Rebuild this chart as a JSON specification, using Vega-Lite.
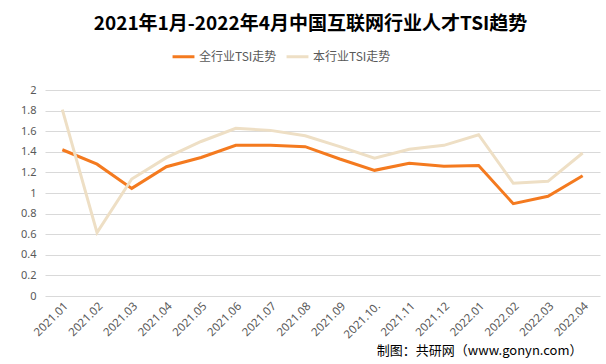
{
  "$schema": "https://vega.github.io/schema/vega-lite/v6.json",
  "width": 555,
  "height": 206,
  "autosize": {"type": "none"},
  "padding": {"left": 45, "top": 90, "right": 6, "bottom": 68},
  "background": "white",
  "title": {
    "text": "2021年1月-2022年4月中国互联网行业人才TSI趋势",
    "font": "Noto Sans CJK SC",
    "fontSize": 19,
    "fontWeight": "bold",
    "color": "#000000",
    "anchor": "middle",
    "dx": -12,
    "offset": 10
  },
  "config": {
    "view": {"stroke": null},
    "font": "Noto Sans CJK SC"
  },
  "data": {
    "values": [
      {"month": "2021.01", "series": "全行业TSI走势", "value": 1.42},
      {"month": "2021.02", "series": "全行业TSI走势", "value": 1.28},
      {"month": "2021.03", "series": "全行业TSI走势", "value": 1.045},
      {"month": "2021.04", "series": "全行业TSI走势", "value": 1.255},
      {"month": "2021.05", "series": "全行业TSI走势", "value": 1.345},
      {"month": "2021.06", "series": "全行业TSI走势", "value": 1.463},
      {"month": "2021.07", "series": "全行业TSI走势", "value": 1.463},
      {"month": "2021.08", "series": "全行业TSI走势", "value": 1.45},
      {"month": "2021.09", "series": "全行业TSI走势", "value": 1.33},
      {"month": "2021.10.", "series": "全行业TSI走势", "value": 1.22},
      {"month": "2021.11", "series": "全行业TSI走势", "value": 1.288},
      {"month": "2021.12", "series": "全行业TSI走势", "value": 1.26},
      {"month": "2022.01", "series": "全行业TSI走势", "value": 1.266},
      {"month": "2022.02", "series": "全行业TSI走势", "value": 0.896},
      {"month": "2022.03", "series": "全行业TSI走势", "value": 0.968},
      {"month": "2022.04", "series": "全行业TSI走势", "value": 1.168},
      {"month": "2021.01", "series": "本行业TSI走势", "value": 1.81},
      {"month": "2021.02", "series": "本行业TSI走势", "value": 0.615},
      {"month": "2021.03", "series": "本行业TSI走势", "value": 1.136},
      {"month": "2021.04", "series": "本行业TSI走势", "value": 1.343},
      {"month": "2021.05", "series": "本行业TSI走势", "value": 1.5},
      {"month": "2021.06", "series": "本行业TSI走势", "value": 1.628},
      {"month": "2021.07", "series": "本行业TSI走势", "value": 1.608},
      {"month": "2021.08", "series": "本行业TSI走势", "value": 1.555},
      {"month": "2021.09", "series": "本行业TSI走势", "value": 1.45},
      {"month": "2021.10.", "series": "本行业TSI走势", "value": 1.337},
      {"month": "2021.11", "series": "本行业TSI走势", "value": 1.424},
      {"month": "2021.12", "series": "本行业TSI走势", "value": 1.463},
      {"month": "2022.01", "series": "本行业TSI走势", "value": 1.566},
      {"month": "2022.02", "series": "本行业TSI走势", "value": 1.094},
      {"month": "2022.03", "series": "本行业TSI走势", "value": 1.113},
      {"month": "2022.04", "series": "本行业TSI走势", "value": 1.388}
    ]
  },
  "mark": {"type": "line", "strokeWidth": 3, "strokeJoin": "miter"},
  "encoding": {
    "x": {
      "field": "month",
      "type": "ordinal",
      "sort": null,
      "scale": {"type": "band", "paddingInner": 0, "paddingOuter": 0},
      "axis": {
        "title": "制图：共研网（www.gonyn.com）",
        "titleFontSize": 13,
        "titleFontWeight": "normal",
        "titleColor": "#000000",
        "titleAlign": "right",
        "titleBaseline": "top",
        "titleX": 537,
        "titleY": 48,
        "labelAngle": -45,
        "labelFontSize": 11.5,
        "labelColor": "#595959",
        "labelFont": "Noto Sans",
        "labelPadding": 4,
        "ticks": false,
        "domain": false,
        "grid": false
      }
    },
    "y": {
      "field": "value",
      "type": "quantitative",
      "scale": {"domain": [0, 2], "nice": false, "zero": true},
      "axis": {
        "title": null,
        "values": [0, 0.2, 0.4, 0.6, 0.8, 1, 1.2, 1.4, 1.6, 1.8, 2],
        "format": "~g",
        "labelFontSize": 11,
        "labelColor": "#595959",
        "labelFont": "Noto Sans",
        "labelPadding": 9,
        "ticks": false,
        "domain": false,
        "gridColor": "#d9d9d9",
        "gridWidth": 1
      }
    },
    "color": {
      "field": "series",
      "type": "nominal",
      "sort": ["全行业TSI走势", "本行业TSI走势"],
      "scale": {"domain": ["全行业TSI走势", "本行业TSI走势"], "range": ["#F47A1F", "#EEDFC5"]},
      "legend": {
        "title": null,
        "orient": "none",
        "legendX": 126,
        "legendY": -46,
        "direction": "horizontal",
        "symbolType": "stroke",
        "symbolStrokeWidth": 3,
        "symbolSize": 480,
        "labelFontSize": 12,
        "labelColor": "#595959",
        "labelFont": "Noto Sans CJK SC",
        "labelOffset": 3,
        "columnPadding": 3
      }
    }
  }
}
